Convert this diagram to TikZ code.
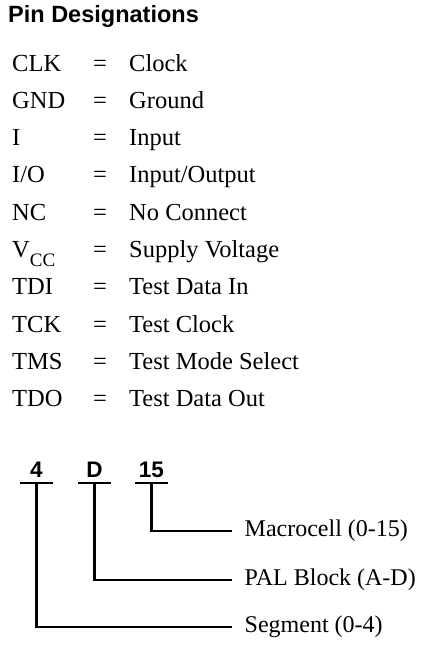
\documentclass[tikz,border=0pt]{standalone}
\usepackage{fontspec}
\setmainfont{Liberation Serif}
\newfontfamily\headfont{Liberation Sans}
\usepackage{tikz}

\newcommand{\vccname}{V\raisebox{-9pt}{\fontsize{19}{19}\selectfont CC}}

\tikzset{
    heading/.style={anchor=base west, inner sep=0pt,
        font=\headfont\bfseries\fontsize{23.5}{23.5}\selectfont},
    pinname/.style={anchor=base west, inner sep=0pt, font=\fontsize{24.5}{24.5}\selectfont},
    pineq/.style={anchor=base, inner sep=0pt, font=\fontsize{24.5}{24.5}\selectfont},
    digit/.style={anchor=base, inner sep=0pt,
        font=\headfont\bfseries\fontsize{22.5}{22.5}\selectfont},
    field/.style={anchor=west, inner xsep=12.5pt, inner ysep=0pt,
        font=\fontsize{24}{24}\selectfont},
    wire/.style={line width=2.2pt}
}

\begin{document}
\begin{tikzpicture}[x=1pt, y=-1pt]
    \useasboundingbox (0, 0) rectangle (427, 645);
    \node[heading] (title) at (8, 22.7) {Pin Designations};
    \foreach \abbr/\desc [count=\i] in {CLK/Clock, GND/Ground, I/Input,
        {I/O}/{Input/Output}, NC/No Connect, \vccname/Supply Voltage,
        TDI/Test Data In, TCK/Test Clock, TMS/Test Mode Select, TDO/Test Data Out} {
        \pgfmathsetmacro{\rowy}{71 + 37.33*(\i - 1)}
        \node[pinname] (abbr\i) at (12, \rowy) {\abbr};
        \node[pineq] (eq\i) at (100, \rowy) {=};
        \node[pinname] (desc\i) at (129, \rowy) {\desc};
    }

    \node[digit] (seg) at (36.5, 477) {4};
    \node[digit] (blk) at (94.5, 477) {D};
    \node[digit] (mc) at (151.5, 477) {15};
    \foreach \n/\x in {seg/36.5, blk/94.5, mc/151.5} {
        \coordinate (\n tap) at (\x, 483);
        \draw[wire] (\x - 16.5, 483) -- (\x + 16.5, 483);
    }

    \node[field] (mclabel) at (232, 530.7) {Macrocell (0-15)};
    \node[field] (blklabel) at (232, 580) {PAL Block (A-D)};
    \node[field] (seglabel) at (232, 626.7) {Segment (0-4)};
    \draw[wire] (mctap) |- (mclabel.west);
    \draw[wire] (blktap) |- (blklabel.west);
    \draw[wire] (segtap) |- (seglabel.west);
\end{tikzpicture}
\end{document}
